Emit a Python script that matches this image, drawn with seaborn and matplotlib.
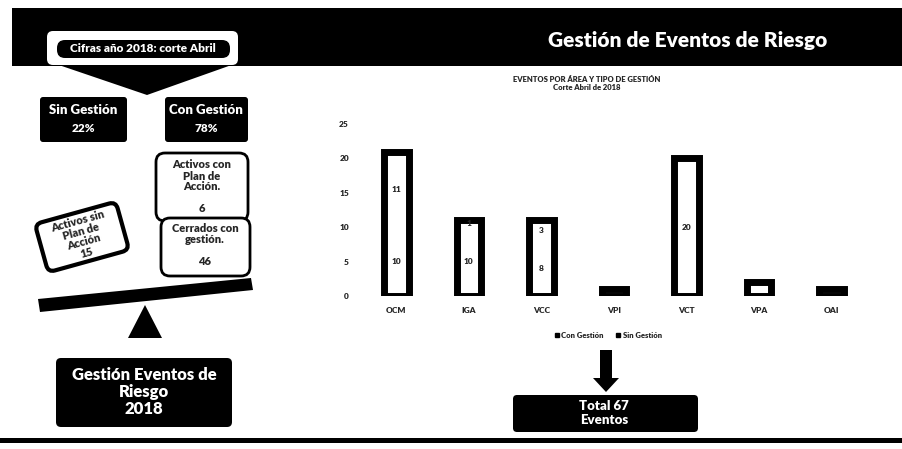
import matplotlib
matplotlib.use("Agg")
import matplotlib.pyplot as plt
from matplotlib.patches import Rectangle, FancyBboxPatch, Polygon
from matplotlib.lines import Line2D
from matplotlib.transforms import Affine2D
import seaborn as sns
import pandas as pd

# data
areas = ["OCM", "IGA", "VCC", "VPI", "VCT", "VPA", "OAI"]
con_gestion = [10, 10, 8, 1, 20, 2, 1]
sin_gestion = [11, 1, 3, 0, 0, 0, 0]
activos_con_plan = 6
cerrados_con_gestion = 46
activos_sin_plan = 15
yticks = [0, 5, 10, 15, 20, 25]

sns.set_theme(style="white")
plt.rcParams["font.family"] = ["Lato", "DejaVu Sans"]
WT = "heavy"

df = pd.DataFrame({"area": areas, "con": con_gestion, "sin": sin_gestion})
df["total"] = df["con"] + df["sin"]
total = int(df["total"].sum())
pct_sin = round(100 * df["sin"].sum() / total)
pct_con = 100 - pct_sin

W, H = 903, 449
fig = plt.figure(figsize=(W / 100, H / 100), dpi=100)
bg = fig.add_axes([0, 0, 1, 1])
bg.set_xlim(0, W)
bg.set_ylim(H, 0)
bg.axis("off")


def rbox(x0, y0, x1, y1, fc="black", ec="none", lw=0, pad=5):
    p = FancyBboxPatch((x0, y0), x1 - x0, y1 - y0,
                       boxstyle=f"round,pad=0,rounding_size={pad}",
                       fc=fc, ec=ec, lw=lw)
    bg.add_patch(p)
    return p


# header band
bg.add_patch(Rectangle((12, 8), W - 12, 58, fc="black", ec="none"))
bg.text(688, 41, "Gestión de Eventos de Riesgo", color="white", fontsize=15,
        fontweight=WT, ha="center", va="center")

# callout with arrow
bg.add_patch(Polygon([(50, 62), (240, 62), (147, 95)], closed=True, fc="black", ec="none"))
rbox(47, 31, 238, 65, fc="white", pad=6)
rbox(57, 40, 230, 58, fc="black", pad=8)
bg.text(143, 49, "Cifras año 2018: corte Abril", color="white", fontsize=8.5,
        fontweight=WT, ha="center", va="center")

# sin / con gestion boxes
rbox(40, 97, 127, 142, fc="black", pad=3)
bg.text(83, 110, "Sin Gestión", color="white", fontsize=9.5, fontweight=WT,
        ha="center", va="center")
bg.text(83, 129, f"{pct_sin}%", color="white", fontsize=8.5, fontweight=WT,
        ha="center", va="center")
rbox(165, 97, 248, 142, fc="black", pad=3)
bg.text(206, 110, "Con Gestión", color="white", fontsize=9.5, fontweight=WT,
        ha="center", va="center")
bg.text(206, 129, f"{pct_con}%", color="white", fontsize=8.5, fontweight=WT,
        ha="center", va="center")

# small note boxes
rbox(156, 153, 248, 221, fc="white", ec="black", lw=2, pad=9)
bg.text(202, 187, f"Activos con\nPlan de\nAcción.\n\n{activos_con_plan}", fontsize=8,
        fontweight=WT, ha="center", va="center", linespacing=1.0)
rbox(161, 218, 250, 276, fc="white", ec="black", lw=2, pad=9)
bg.text(205, 245, f"Cerrados con\ngestión.\n\n{cerrados_con_gestion}", fontsize=8,
        fontweight=WT, ha="center", va="center", linespacing=1.0)

cx, cy = 82, 237
rb = rbox(cx - 42, cy - 25, cx + 42, cy + 25, fc="white", ec="black", lw=3, pad=7)
rb.set_transform(Affine2D().rotate_deg_around(cx, cy, -15.5) + bg.transData)
bg.text(cx, cy, f"Activos sin\nPlan de\nAcción\n{activos_sin_plan}", fontsize=8,
        fontweight=WT, ha="center", va="center", rotation=15.5,
        rotation_mode="anchor", linespacing=1.0)

# seesaw
bg.add_patch(Polygon([(38, 299), (251, 278), (253, 290), (40, 312)], closed=True,
                     fc="black", ec="none"))
bg.add_patch(Polygon([(145, 305), (128, 338), (162, 338)], closed=True,
                     fc="black", ec="none"))

rbox(56, 358, 232, 427, fc="black", pad=5)
bg.text(144, 392, "Gestión Eventos de\nRiesgo\n2018", color="white", fontsize=12,
        fontweight=WT, ha="center", va="center", linespacing=1.1)

# total box with arrow
bg.add_patch(Polygon([(600, 350), (612, 350), (612, 378), (619, 378), (606, 392),
                      (593, 378), (600, 378)], closed=True, fc="black", ec="none"))
rbox(513, 395, 698, 432, fc="black", pad=4)
bg.text(604, 413, f"Total {total}\nEventos", color="white", fontsize=9.5,
        fontweight=WT, ha="center", va="center", linespacing=1.1)

# bottom rule
bg.add_patch(Rectangle((0, 438), W, 5, fc="black", ec="none"))

# chart
ax = fig.add_axes([360 / W, (H - 296) / H, 508 / W, 172 / H])
ax.patch.set_alpha(0)
sns.barplot(data=df, x="area", y="total", color="white", edgecolor="black",
            linewidth=5, width=0.34, saturation=1, ax=ax)
for i, (c, s) in enumerate(zip(df["con"], df["sin"])):
    if c + s < 5:
        continue
    ax.text(i, c / 2, str(c), fontsize=6, fontweight=WT, ha="center", va="center")
    if s > 0:
        ax.text(i, c + s / 2, str(s), fontsize=6, fontweight=WT, ha="center", va="center")
ax.set_xlim(-0.5, len(areas) - 0.5)
ax.set_ylim(0, 25)
ax.set_yticks(yticks)
ax.set_xlabel("")
ax.set_ylabel("")
ax.tick_params(length=0, labelsize=6, pad=8)
for lab in ax.get_xticklabels() + ax.get_yticklabels():
    lab.set_fontweight(WT)
sns.despine(ax=ax, left=True, bottom=True)

bg.text(587, 80, "EVENTOS POR ÁREA Y TIPO DE GESTIÓN", fontsize=5.5, fontweight=WT,
        ha="center", va="center")
bg.text(587, 88, "Corte Abril de 2018", fontsize=5.5, fontweight=WT,
        ha="center", va="center")

handles = [Line2D([], [], marker="s", color="black", ls="none", markersize=3.5),
           Line2D([], [], marker="s", color="black", ls="none", markersize=3.5)]
bg.legend(handles, ["Con Gestión", "Sin Gestión"], loc="center",
          bbox_to_anchor=(608 / W, 1 - 335 / H), ncol=2, frameon=False,
          prop={"size": 5.5, "weight": WT}, handletextpad=0.2,
          columnspacing=1.5, handlelength=0.8)

fig.savefig("out.png", dpi=100)
